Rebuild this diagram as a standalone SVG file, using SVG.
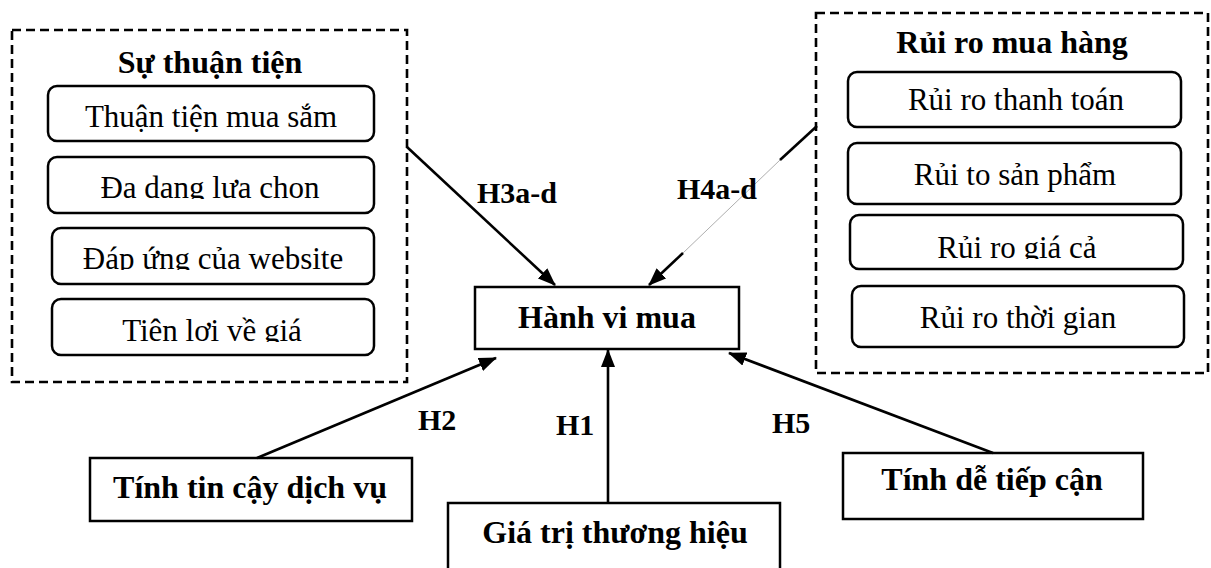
<svg xmlns="http://www.w3.org/2000/svg" width="1211" height="568" viewBox="0 0 1211 568">
  <style>
    .grp { fill: none; stroke: #000; stroke-width: 2.6; stroke-dasharray: 9 5; }
    .item { fill: #fff; stroke: #000; stroke-width: 2.5; }
    .box { fill: #fff; stroke: #000; stroke-width: 2.5; }
    .t { font-family: "Liberation Serif", "Times New Roman", serif; font-size: 31px; fill: #000; text-anchor: middle; }
    .b { font-family: "Liberation Serif", "Times New Roman", serif; font-size: 32px; font-weight: bold; fill: #000; text-anchor: middle; }
    .lbl { font-family: "Liberation Serif", "Times New Roman", serif; font-size: 30px; font-weight: bold; fill: #000; }
    .edge { stroke: #000; stroke-width: 2.6; fill: none; }
  </style>
  <defs>
    <marker id="arrow" viewBox="0 0 18 14" refX="17" refY="7" markerWidth="18" markerHeight="14" markerUnits="userSpaceOnUse" orient="auto">
      <path d="M0,0 L18,7 L0,14 Z" fill="#000"/>
    </marker>
    <clipPath id="cl2"><rect x="40" y="150" width="340" height="49"/></clipPath>
    <clipPath id="cl3"><rect x="40" y="220" width="340" height="50"/></clipPath>
    <clipPath id="cl4"><rect x="40" y="290" width="340" height="52"/></clipPath>
    <clipPath id="cr3"><rect x="840" y="210" width="350" height="49"/></clipPath>
  </defs>

  <rect width="1211" height="568" fill="#fff"/>

  <!-- Convenience group -->
  <g id="su-thuan-tien">
    <rect class="grp" x="12" y="30" width="395" height="352"/>
    <text class="b" x="210" y="73">Sự thuận tiện</text>
    <rect class="item" x="48" y="86" width="326" height="55" rx="9"/>
    <text class="t" x="211" y="127">Thuận tiện mua sắm</text>
    <rect class="item" x="48" y="157" width="326" height="56" rx="9"/>
    <text class="t" x="210" y="198" clip-path="url(#cl2)">Đa dang lưa chon</text>
    <rect class="item" x="52" y="228" width="322" height="56" rx="9"/>
    <text class="t" x="213" y="269" clip-path="url(#cl3)">Đáp ứng của website</text>
    <rect class="item" x="52" y="299" width="322" height="56" rx="9"/>
    <text class="t" x="212" y="341" clip-path="url(#cl4)">Tiên lơi về giá</text>
  </g>

  <!-- Purchase risk group -->
  <g id="rui-ro-mua-hang">
    <rect class="grp" x="816" y="13" width="392" height="360"/>
    <text class="b" x="1012" y="53">Rủi ro mua hàng</text>
    <rect class="item" x="848" y="72" width="333" height="55" rx="9"/>
    <text class="t" x="1016" y="110">Rủi ro thanh toán</text>
    <rect class="item" x="848" y="143" width="333" height="61" rx="9"/>
    <text class="t" x="1015" y="185">Rủi to sản phẩm</text>
    <rect class="item" x="850" y="215" width="333" height="54" rx="9"/>
    <text class="t" x="1017" y="258" clip-path="url(#cr3)">Rủi ro giá cả</text>
    <rect class="item" x="852" y="286" width="332" height="61" rx="9"/>
    <text class="t" x="1018" y="328">Rủi ro thời gian</text>
  </g>

  <!-- Central outcome -->
  <g id="hanh-vi-mua">
    <rect class="box" x="475" y="287" width="264" height="62"/>
    <text class="b" x="607" y="328">Hành vi mua</text>
  </g>

  <g id="tinh-tin-cay">
    <rect class="box" x="90" y="458" width="322" height="63"/>
    <text class="b" x="250" y="498">Tính tin cậy dịch vụ</text>
  </g>

  <g id="gia-tri-thuong-hieu">
    <rect class="box" x="448" y="503" width="332" height="80"/>
    <text class="b" x="615" y="543">Giá trị thương hiệu</text>
  </g>

  <g id="tinh-de-tiep-can">
    <rect class="box" x="843" y="453" width="300" height="66"/>
    <text class="b" x="992" y="490">Tính dễ tiếp cận</text>
  </g>

  <!-- Hypothesis paths -->
  <g id="connectors">
    <line class="edge" x1="407" y1="147" x2="555" y2="285" marker-end="url(#arrow)"/>
    <line class="edge" x1="817" y1="126" x2="780" y2="160"/>
    <line x1="780" y1="160" x2="683" y2="253" stroke="#999" stroke-width="0.8"/>
    <line class="edge" x1="683" y1="253" x2="649" y2="285" marker-end="url(#arrow)"/>
    <line class="edge" x1="257" y1="458" x2="496" y2="358" marker-end="url(#arrow)"/>
    <line class="edge" x1="608" y1="503" x2="608" y2="350" marker-end="url(#arrow)"/>
    <line class="edge" x1="993" y1="453" x2="729" y2="353" marker-end="url(#arrow)"/>
    <text class="lbl" x="477" y="203">H3a-d</text>
    <text class="lbl" x="677" y="199">H4a-d</text>
    <text class="lbl" x="418" y="430">H2</text>
    <text class="lbl" x="556" y="435">H1</text>
    <text class="lbl" x="772" y="433">H5</text>
  </g>
</svg>
